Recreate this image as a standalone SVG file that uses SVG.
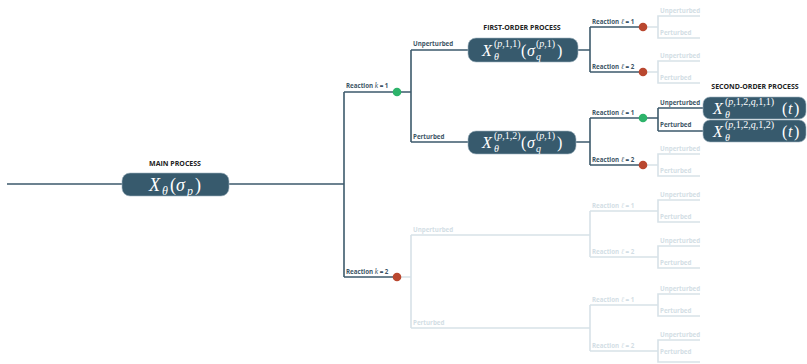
<svg xmlns="http://www.w3.org/2000/svg" width="807" height="364" viewBox="0 0 807 364">
<style>
.bg{fill:#ffffff}
.dk{fill:none;stroke:#3d5a6c;stroke-width:1.6}
.fd{fill:none;stroke:#d7e2e8;stroke-width:1.6}
.box{fill:#375a6d;stroke:#9fb3bf;stroke-width:0.6}
.lbl{font-family:"Open Sans","Liberation Sans",sans-serif;font-weight:bold;font-size:6.2px;fill:#3d5566}
.lf{font-family:"Open Sans","Liberation Sans",sans-serif;font-weight:bold;font-size:6.2px;fill:#d3dee5}
.v{font-family:"Liberation Serif",serif;font-style:italic;font-weight:normal;font-size:7.5px}
.ttl{font-family:"Open Sans","Liberation Sans",sans-serif;font-weight:bold;font-size:7px;fill:#222222}
.m{font-family:"Liberation Serif","DejaVu Serif",serif;font-style:italic;fill:#ffffff}
.n{font-style:normal}
.g{fill:#2db36a}
.r{fill:#b9472f}
</style>
<rect class="bg" x="0" y="0" width="807" height="364"/>
<g id="connectors">
<path class="fd" d="M397,277 H411 M411,235 V328 M411,235 H590 M411,328 H590 M590,211 V257 M590,211 H658 M590,257 H658 M590,305 V351 M590,305 H658 M590,351 H658 M643,27 H658 M643,72 H658 M643,165 H658"/>
<path class="fd" d="M700,16 H658 V38 H700 M700,61 H658 V83 H700 M700,154 H658 V176 H700 M700,200 H658 V222 H700 M700,246 H658 V268 H700 M700,294 H658 V316 H700 M700,340 H658 V362 H700"/>
<path class="dk" d="M7,184 H344 M344,92 V277 M344,92 H411 M411,50 V142 M411,50 H468 M411,142 H468 M344,277 H397 M577,50 H590 M590,27 V72 M590,27 H643 M590,72 H643 M576,142 H590 M590,118 V165 M590,118 H658 M658,108 V131 M658,108 H703 M658,131 H703 M590,165 H643"/>
</g>
<g id="labels-faded">
<text class="lf" x="413" y="232">Unperturbed</text>
<text class="lf" x="413" y="325">Perturbed</text>
<text class="lf" x="592" y="208">Reaction <tspan class="v">ℓ</tspan> = 1</text>
<text class="lf" x="592" y="254">Reaction <tspan class="v">ℓ</tspan> = 2</text>
<text class="lf" x="592" y="302">Reaction <tspan class="v">ℓ</tspan> = 1</text>
<text class="lf" x="592" y="348">Reaction <tspan class="v">ℓ</tspan> = 2</text>
<text class="lf" x="660" y="13">Unperturbed</text><text class="lf" x="660" y="35">Perturbed</text>
<text class="lf" x="660" y="58">Unperturbed</text><text class="lf" x="660" y="80">Perturbed</text>
<text class="lf" x="660" y="151">Unperturbed</text><text class="lf" x="660" y="173">Perturbed</text>
<text class="lf" x="660" y="197">Unperturbed</text><text class="lf" x="660" y="219">Perturbed</text>
<text class="lf" x="660" y="243">Unperturbed</text><text class="lf" x="660" y="265">Perturbed</text>
<text class="lf" x="660" y="291">Unperturbed</text><text class="lf" x="660" y="313">Perturbed</text>
<text class="lf" x="660" y="337">Unperturbed</text><text class="lf" x="660" y="354">Perturbed</text>
</g>
<g id="main">
<text class="ttl" x="175" y="166" text-anchor="middle">MAIN PROCESS</text>
<rect class="box" x="122" y="173" width="107" height="23" rx="8"/>
<text class="m" font-size="18"><tspan x="149" y="191">X</tspan><tspan x="162" y="195" font-size="12">θ</tspan><tspan class="n" x="170" y="191">(</tspan><tspan x="176" y="191">σ</tspan><tspan x="187" y="195" font-size="12">p</tspan><tspan class="n" x="195" y="191">)</tspan></text>
</g>
<g id="reaction-k1">
<text class="lbl" x="346" y="88">Reaction <tspan class="v">k</tspan> = 1</text>
<circle class="g" cx="397" cy="92" r="4.3"/>
</g>
<g id="reaction-k2">
<text class="lbl" x="346" y="274">Reaction <tspan class="v">k</tspan> = 2</text>
<circle class="r" cx="397" cy="277" r="4.3"/>
</g>
<g id="first-order-1">
<text class="ttl" x="522" y="30" text-anchor="middle">FIRST-ORDER PROCESS</text>
<text class="lbl" x="413" y="46">Unperturbed</text>
<rect class="box" x="468" y="38" width="110" height="24" rx="8"/>
<text class="m" font-size="16"><tspan x="482" y="56">X</tspan><tspan x="494" y="47" font-size="10"><tspan class="n">(</tspan>p<tspan class="n">,1,1)</tspan></tspan><tspan x="494" y="60" font-size="10">θ</tspan><tspan class="n" x="521" y="56">(</tspan><tspan x="527" y="56">σ</tspan><tspan x="536" y="47" font-size="10"><tspan class="n">(</tspan>p<tspan class="n">,1)</tspan></tspan><tspan x="536" y="60" font-size="10">q</tspan><tspan class="n" x="557" y="56">)</tspan></text>
</g>
<g id="first-order-2">
<text class="lbl" x="413" y="139">Perturbed</text>
<rect class="box" x="468" y="131" width="108" height="23" rx="8"/>
<text class="m" font-size="16"><tspan x="482" y="148">X</tspan><tspan x="494" y="139" font-size="10"><tspan class="n">(</tspan>p<tspan class="n">,1,2)</tspan></tspan><tspan x="494" y="152" font-size="10">θ</tspan><tspan class="n" x="521" y="148">(</tspan><tspan x="527" y="148">σ</tspan><tspan x="536" y="139" font-size="10"><tspan class="n">(</tspan>p<tspan class="n">,1)</tspan></tspan><tspan x="536" y="152" font-size="10">q</tspan><tspan class="n" x="557" y="148">)</tspan></text>
</g>
<g id="reactions-l">
<text class="lbl" x="592" y="24">Reaction <tspan class="v">ℓ</tspan> = 1</text>
<circle class="r" cx="643" cy="27" r="4.3"/>
<text class="lbl" x="592" y="69">Reaction <tspan class="v">ℓ</tspan> = 2</text>
<circle class="r" cx="643" cy="72" r="4.3"/>
<text class="lbl" x="592" y="115">Reaction <tspan class="v">ℓ</tspan> = 1</text>
<circle class="g" cx="643" cy="118" r="4.3"/>
<text class="lbl" x="592" y="162">Reaction <tspan class="v">ℓ</tspan> = 2</text>
<circle class="r" cx="643" cy="165" r="4.3"/>
</g>
<g id="second-order-1">
<text class="ttl" x="755" y="89" text-anchor="middle">SECOND-ORDER PROCESS</text>
<text class="lbl" x="660" y="105">Unperturbed</text>
<rect class="box" x="703" y="97" width="103" height="22" rx="7"/>
<text class="m" font-size="16"><tspan x="713" y="114">X</tspan><tspan x="725" y="105" font-size="10"><tspan class="n">(</tspan>p<tspan class="n">,1,2,</tspan>q<tspan class="n">,1,1)</tspan></tspan><tspan x="725" y="118" font-size="10">θ</tspan><tspan class="n" x="782" y="114">(</tspan><tspan x="788" y="114">t</tspan><tspan class="n" x="794" y="114">)</tspan></text>
</g>
<g id="second-order-2">
<text class="lbl" x="660" y="127">Perturbed</text>
<rect class="box" x="703" y="120" width="103" height="22" rx="7"/>
<text class="m" font-size="16"><tspan x="713" y="137">X</tspan><tspan x="725" y="128" font-size="10"><tspan class="n">(</tspan>p<tspan class="n">,1,2,</tspan>q<tspan class="n">,1,2)</tspan></tspan><tspan x="725" y="141" font-size="10">θ</tspan><tspan class="n" x="782" y="137">(</tspan><tspan x="788" y="137">t</tspan><tspan class="n" x="794" y="137">)</tspan></text>
</g>
</svg>
